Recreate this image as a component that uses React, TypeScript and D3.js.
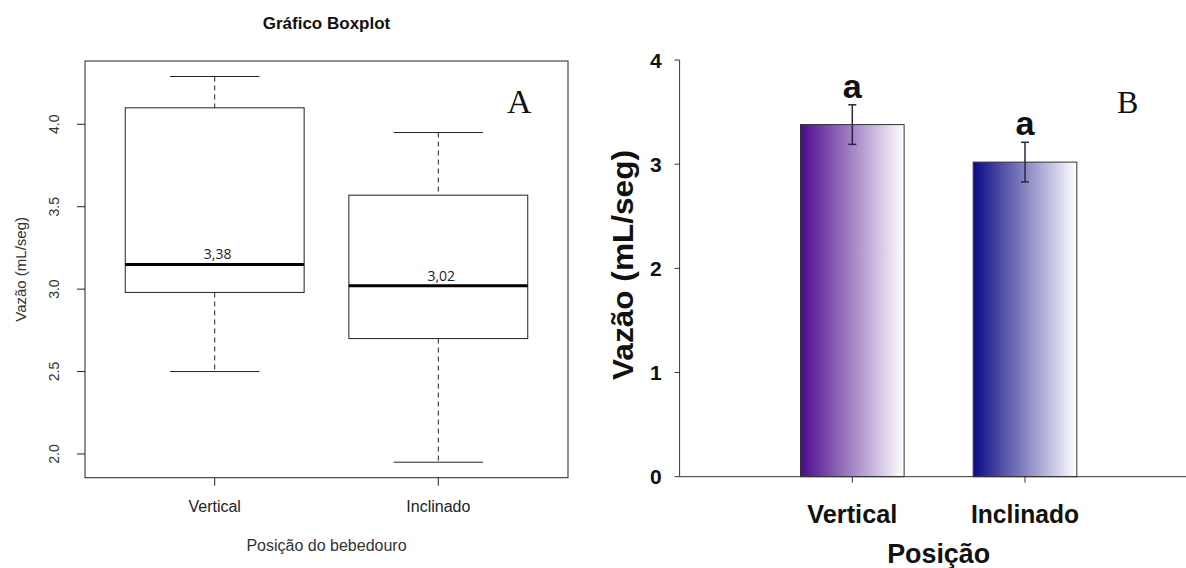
import React from 'react';
import * as d3 from 'd3';

// panel A - boxplot
const boxCategories = ['Vertical', 'Inclinado'];
const boxWhiskerLow = [2.5, 1.95];
const boxQ1 = [2.98, 2.7];
const boxMedian = [3.15, 3.02];
const boxQ3 = [4.1, 3.57];
const boxWhiskerHigh = [4.29, 3.95];
const medianLabels = ['3,38', '3,02'];
const boxYTicks = [2.0, 2.5, 3.0, 3.5, 4.0];

// panel B - bars with error
const barCategories = ['Vertical', 'Inclinado'];
const barMeans = [3.38, 3.02];
const barErrors = [0.19, 0.19];
const barLetters = ['a', 'a'];
const barColors = ['#4b0a8c', '#0c0a85'];
const barYTicks = [0, 1, 2, 3, 4];

const W = 1186;
const H = 568;
const sans = '"Liberation Sans", Arial, sans-serif';
const serif = '"Liberation Serif", "Times New Roman", serif';

function PanelA() {
  const left = 85, right = 568, top = 61, bottom = 477.7;
  const x = d3.scaleLinear().domain([0.42, 2.58]).range([left, right]);
  const y = d3.scaleLinear().domain([1.856, 4.384]).range([bottom, top]);
  const boxW = x(1.4) - x(0.6);
  const stroke = '#222';

  return (
    <g>
      <text x={(left + right) / 2} y={29} textAnchor="middle" fontFamily={sans}
        fontWeight="bold" fontSize={17} fill="#111">Gráfico Boxplot</text>

      {boxCategories.map((c, i) => {
        const cx = x(i + 1);
        return (
          <g key={c}>
            <line x1={cx} x2={cx} y1={y(boxWhiskerHigh[i])} y2={y(boxQ3[i])}
              stroke={stroke} strokeDasharray="5,4" />
            <line x1={cx} x2={cx} y1={y(boxQ1[i])} y2={y(boxWhiskerLow[i])}
              stroke={stroke} strokeDasharray="5,4" />
            <line x1={cx - boxW / 4} x2={cx + boxW / 4} y1={y(boxWhiskerHigh[i])}
              y2={y(boxWhiskerHigh[i])} stroke={stroke} />
            <line x1={cx - boxW / 4} x2={cx + boxW / 4} y1={y(boxWhiskerLow[i])}
              y2={y(boxWhiskerLow[i])} stroke={stroke} />
            <rect x={cx - boxW / 2} y={y(boxQ3[i])} width={boxW}
              height={y(boxQ1[i]) - y(boxQ3[i])} fill="white" stroke={stroke} />
            <line x1={cx - boxW / 2} x2={cx + boxW / 2} y1={y(boxMedian[i])}
              y2={y(boxMedian[i])} stroke="#000" strokeWidth={3} />
            <text x={cx + 3} y={y(boxMedian[i]) - 5} textAnchor="middle"
              fontFamily='"Open Sans", sans-serif' fontSize={14} fill="#222">
              {medianLabels[i]}
            </text>
            <line x1={cx} x2={cx} y1={bottom} y2={bottom + 8} stroke={stroke} />
            <text x={cx} y={512} textAnchor="middle" fontFamily={sans} fontSize={16}
              fill="#222">{c}</text>
          </g>
        );
      })}

      {boxYTicks.map(t => (
        <g key={t} transform={`translate(${left},${y(t)})`}>
          <line x1={-8} x2={0} stroke={stroke} />
          <text transform="translate(-26,0) rotate(-90)" textAnchor="middle"
            fontFamily={sans} fontSize={14} fill="#333">{t.toFixed(1)}</text>
        </g>
      ))}

      <rect x={left} y={top} width={right - left} height={bottom - top}
        fill="none" stroke={stroke} />

      <text transform={`translate(26,${(top + bottom) / 2}) rotate(-90)`}
        textAnchor="middle" fontFamily={sans} fontSize={15} fill="#333">
        Vazão (mL/seg)
      </text>
      <text x={(left + right) / 2} y={550.7} textAnchor="middle" fontFamily={sans}
        fontSize={16} fill="#333">Posição do bebedouro</text>

      <text x={507} y={113} fontFamily={serif} fontSize={34} fill="#111">A</text>
    </g>
  );
}

function PanelB() {
  const axisX = 679.6;
  const x = d3.scaleLinear().domain([0, 3]).range([axisX, 1197.7]);
  const y = d3.scaleLinear().domain([0, 4]).range([476.7, 60]);
  const barW = x(0.6) - x(0);
  const ink = '#333';
  const xLabelWidths = [90, 108];

  return (
    <g>
      <defs>
        {barColors.map((col, i) => (
          <linearGradient key={i} id={`barGrad${i}`} x1="0" x2="1" y1="0" y2="0">
            <stop offset="0%" stopColor={col} />
            <stop offset="100%" stopColor="#ffffff" />
          </linearGradient>
        ))}
      </defs>

      {barCategories.map((c, i) => {
        const cx = x(i + 1);
        const hi = y(barMeans[i] + barErrors[i]);
        const lo = y(barMeans[i] - barErrors[i]);
        return (
          <g key={c}>
            <rect x={cx - barW / 2} y={y(barMeans[i])} width={barW}
              height={y(0) - y(barMeans[i])} fill={`url(#barGrad${i})`}
              stroke={ink} strokeWidth={1} />
            <line x1={cx} x2={cx} y1={hi} y2={lo} stroke="#2b2540" strokeWidth={1.5} />
            <line x1={cx - 4} x2={cx + 4} y1={hi} y2={hi} stroke="#2b2540" strokeWidth={1.5} />
            <line x1={cx - 4} x2={cx + 4} y1={lo} y2={lo} stroke="#2b2540" strokeWidth={1.5} />
            <text x={cx} y={hi - 7} textAnchor="middle" fontFamily={sans}
              fontWeight="bold" fontSize={33} fill="#111" textLength={19}
              lengthAdjust="spacingAndGlyphs">{barLetters[i]}</text>
            <line x1={cx} x2={cx} y1={y(0)} y2={y(0) + 6} stroke={ink} />
            <text x={cx} y={522.7} textAnchor="middle" fontFamily={sans}
              fontWeight="bold" fontSize={26} fill="#111" textLength={xLabelWidths[i]}
              lengthAdjust="spacingAndGlyphs">{c}</text>
          </g>
        );
      })}

      <line x1={axisX} x2={W} y1={y(0)} y2={y(0)} stroke={ink} />
      <line x1={axisX} x2={axisX} y1={y(4)} y2={y(0)} stroke={ink} />
      {barYTicks.map(t => (
        <g key={t} transform={`translate(${axisX},${y(t)})`}>
          <line x1={-5} x2={0} stroke={ink} />
          <text x={-18} dy="0.36em" textAnchor="end" fontFamily={sans}
            fontWeight="bold" fontSize={21} fill="#111">{t}</text>
        </g>
      ))}

      <text transform="translate(633,265) rotate(-90)" textAnchor="middle"
        fontFamily={sans} fontWeight="bold" fontSize={29} fill="#111"
        textLength={230} lengthAdjust="spacingAndGlyphs">
        Vazão (mL/seg)
      </text>
      <text x={(x(1) + x(2)) / 2} y={563} textAnchor="middle" fontFamily={sans}
        fontWeight="bold" fontSize={27} fill="#111" textLength={103}
        lengthAdjust="spacingAndGlyphs">Posição</text>

      <text x={1117} y={113} fontFamily={serif} fontSize={32} fill="#111">B</text>
    </g>
  );
}

export default function App() {
  return (
    <svg width={W} height={H} viewBox={`0 0 ${W} ${H}`}
      style={{ position: 'absolute', left: 0, top: 0, background: 'white' }}>
      <rect width={W} height={H} fill="white" />
      <PanelA />
      <PanelB />
    </svg>
  );
}
